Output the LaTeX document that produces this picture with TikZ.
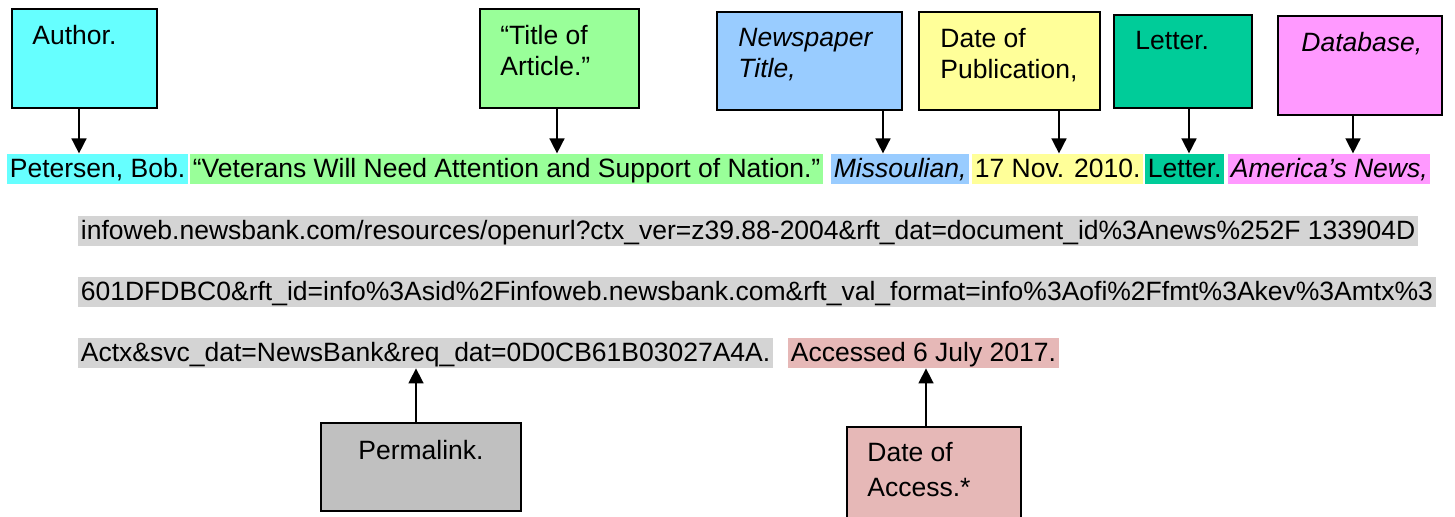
\documentclass[tikz,border=0pt]{standalone}
\usepackage{fontspec}
\setmainfont{Liberation Sans}
\usetikzlibrary{fit,arrows.meta}
\definecolor{authorcyan}{HTML}{66FFFF}
\definecolor{titlegreen}{HTML}{99FF99}
\definecolor{paperblue}{HTML}{99CCFF}
\definecolor{dateyellow}{HTML}{FFFF99}
\definecolor{letterteal}{HTML}{00CC99}
\definecolor{dbpink}{HTML}{FF99FF}
\definecolor{permagray}{HTML}{C0C0C0}
\definecolor{urlgray}{HTML}{D4D4D4}
\definecolor{accessrose}{HTML}{E6B8B7}

\begin{document}
\fontsize{13.25}{15.5}\selectfont
\begin{tikzpicture}[x=0.5pt,y=-0.5pt,
    box/.style={draw,line width=1pt,inner sep=0pt},
    boxtext/.style={anchor=north west,inner sep=0pt,align=left},
    hilite/.style={anchor=base west,inner xsep=1.25pt,inner ysep=0pt,text height=12.1pt,text depth=3pt},
    pointer/.style={-{Triangle[length=7.5pt,width=7.5pt]},line width=0.8pt}]
        \useasboundingbox (0,0) rectangle (1455,517);

        % boxes above and below the citation
        \node[box,fill=authorcyan,fit={(12,9) (157,108)}] (author) {};
        \node[box,fill=titlegreen,fit={(480,9) (639,108)}] (title) {};
        \node[box,fill=paperblue,fit={(717,12) (902,110)}] (paper) {};
        \node[box,fill=dateyellow,fit={(919,12) (1100,110)}] (pubdate) {};
        \node[box,fill=letterteal,fit={(1114,15) (1252,108)}] (letter) {};
        \node[box,fill=dbpink,fit={(1278,16) (1442,115)}] (database) {};
        \node[box,fill=permagray,fit={(321,423) (521,511)}] (perma) {};
        \node[box,fill=accessrose,fit={(847,427) (1021,530)}] (access) {};

        \node[boxtext] (authortext) at ([shift={(21,17)}]author.north west) {Author.};
        \node[boxtext] (titletext) at ([shift={(21,17)}]title.north west) {“Title of\\Article.”};
        \node[boxtext,font=\itshape] (papertext) at ([shift={(22,17)}]paper.north west) {Newspaper\\Title,};
        \node[boxtext] (pubdatetext) at ([shift={(22,17)}]pubdate.north west) {Date of\\Publication,};
        \node[boxtext] (lettertext) at ([shift={(22,17)}]letter.north west) {Letter.};
        \node[boxtext,font=\itshape] (databasetext) at ([shift={(24,17)}]database.north west) {Database,};
        \node[boxtext] (permatext) at ([shift={(38,18)}]perma.north west) {Permalink.};
        \node[boxtext,font=\fontsize{13.25}{17.5}\selectfont] (accesstext) at ([shift={(21,16)}]access.north west) {Date of\\Access.*};

        % the citation, one highlighted piece at a time
        \node[hilite,fill=authorcyan] (cite1) at (7,178) {Petersen, Bob.};
        \node[hilite,fill=titlegreen] (cite2) at (190,178) {“Veterans Will Need Attention and Support of Nation.”};
        \node[hilite,fill=paperblue,font=\itshape] (cite3) at (831,178) {Missoulian,};
        \node[hilite,fill=dateyellow] (cite4) at (972,178) {17 Nov. 2010.};
        \node[hilite,fill=letterteal] (cite5) at (1145,178) {Letter.};
        \node[hilite,fill=dbpink,font=\itshape] (cite6) at (1228,178) {America’s News,};
        \node[hilite,fill=urlgray] (url1) at (78,240) {infoweb.newsbank.com/resources/openurl?ctx\_ver=z39.88-2004\&rft\_dat=document\_id\%3Anews\%252F 133904D};
        \node[hilite,fill=urlgray] (url2) at (78,301) {601DFDBC0\&rft\_id=info\%3Asid\%2Finfoweb.newsbank.com\&rft\_val\_format=info\%3Aofi\%2Ffmt\%3Akev\%3Amtx\%3};
        \node[hilite,fill=urlgray] (url3) at (78,362) {Actx\&svc\_dat=NewsBank\&req\_dat=0D0CB61B03027A4A.};
        \node[hilite,fill=accessrose] (cite7) at (788,362) {Accessed 6 July 2017.};

        % arrows
        \coordinate (authortail) at (79,108);
        \coordinate (titletail) at (557,108);
        \coordinate (papertail) at (883,110);
        \coordinate (pubdatetail) at (1059,110);
        \coordinate (lettertail) at (1189,108);
        \coordinate (databasetail) at (1353,115);
        \coordinate (permatail) at (416,423);
        \coordinate (accesstail) at (926,427);

        \draw[pointer] (authortail) -- (authortail |- cite1.north);
        \draw[pointer] (titletail) -- (titletail |- cite2.north);
        \draw[pointer] (papertail) -- (papertail |- cite3.north);
        \draw[pointer] (pubdatetail) -- (pubdatetail |- cite4.north);
        \draw[pointer] (lettertail) -- (lettertail |- cite5.north);
        \draw[pointer] (databasetail) -- (databasetail |- cite6.north);
        \draw[pointer] (permatail) -- (permatail |- url3.south);
        \draw[pointer] (accesstail) -- (accesstail |- cite7.south);
\end{tikzpicture}
\end{document}
